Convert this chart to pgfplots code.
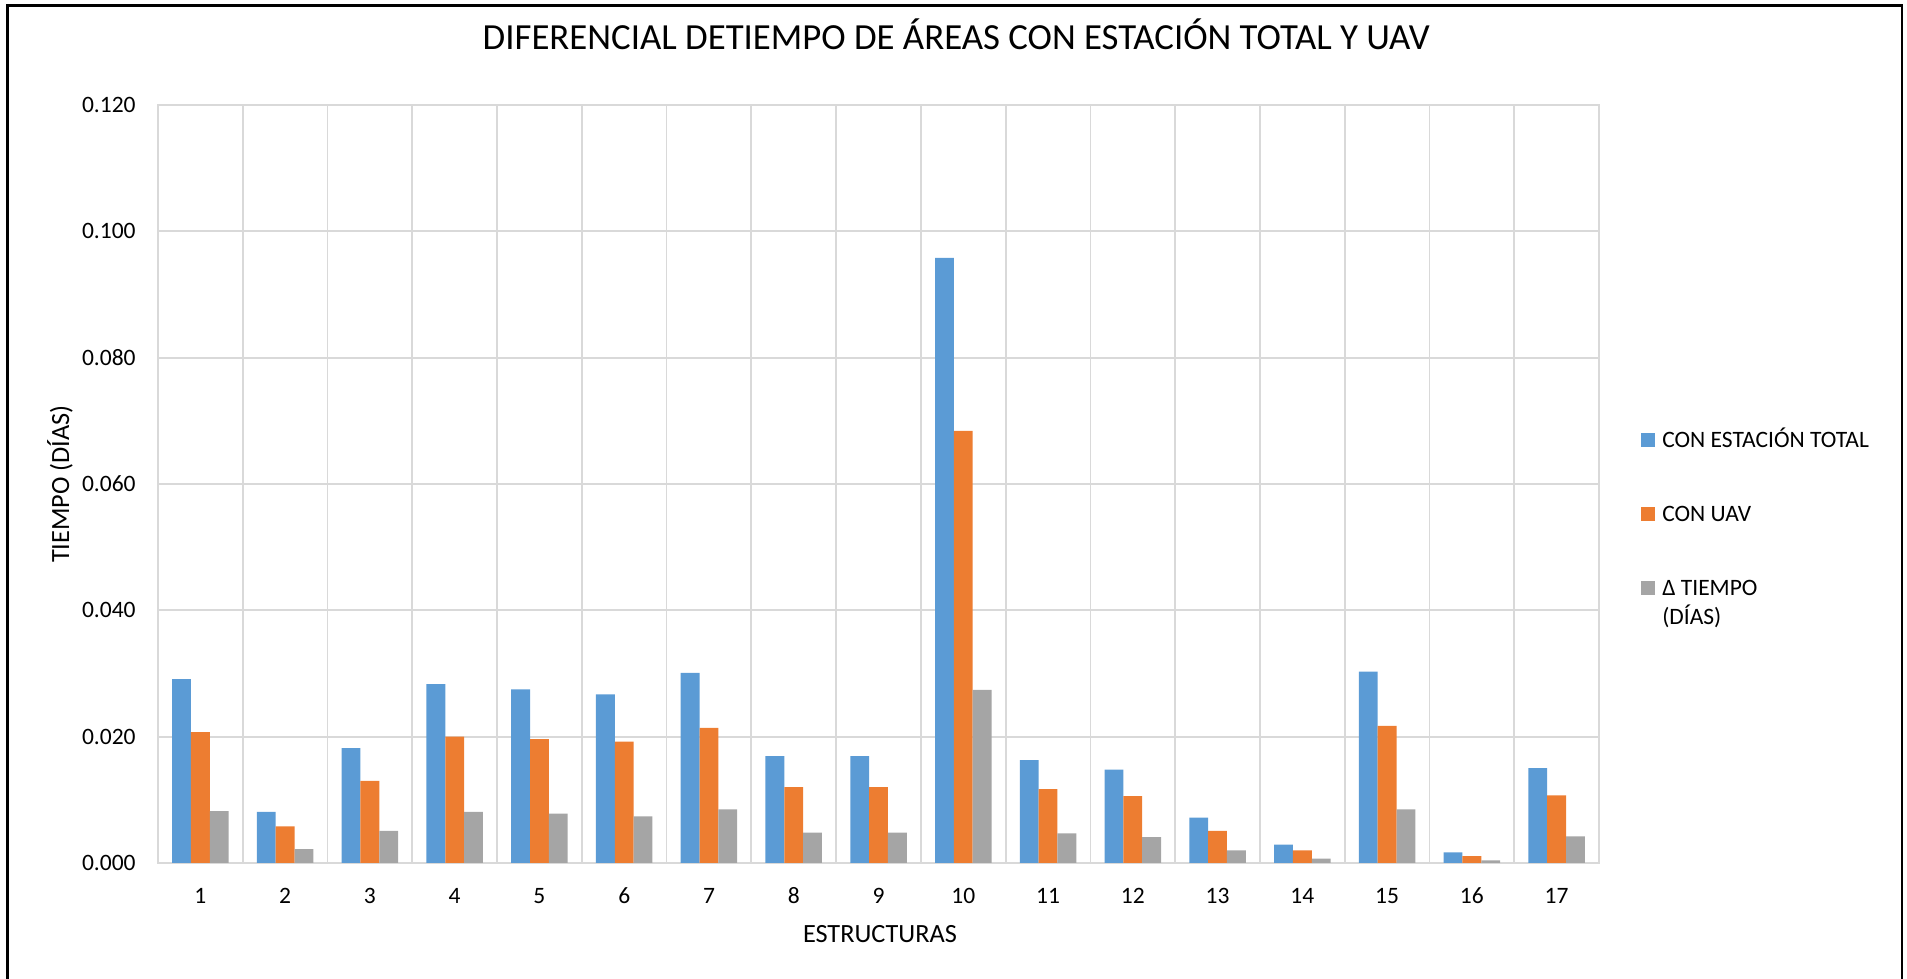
\documentclass[border=0pt]{standalone}
\usepackage{pgfplots}
\pgfplotsset{compat=1.18}
\usepackage{fontspec}
\setmainfont{Carlito}
\definecolor{cblue}{HTML}{5B9BD5}
\definecolor{corange}{HTML}{ED7D31}
\definecolor{cgray}{HTML}{A5A5A5}
\definecolor{cgrid}{HTML}{D9D9D9}
\begin{document}
\begin{tikzpicture}
\useasboundingbox (-79bp,-58bp) rectangle (874.5bp,431.5bp);
\begin{axis}[
  at={(0,0)}, anchor=south west,
  scale only axis, width=720.5bp, height=379bp,
  ybar=0pt, bar width=0.2222,
  legend image code/.code={\fill[#1] (0bp,0bp) rectangle (7bp,7bp);},
  xmin=0.5, xmax=17.5, ymin=0, ymax=0.12,
  xtick={1,...,17}, minor xtick={0.5,1.5,...,17.5},
  xticklabels={1,2,3,4,5,6,7,8,9,10,11,12,13,14,15,16,17},
  ytick={0,0.02,0.04,0.06,0.08,0.1,0.12},
  scaled y ticks=false,
  /pgf/number format/assume math mode=true,
  xminorgrids, ymajorgrids,
  major tick length=0pt, minor tick length=0pt,
  grid style={cgrid, line width=0.9bp},
  minor grid style={cgrid, line width=0.9bp},
  axis line style={cgrid, line width=0.9bp},
  tick label style={font=\fontsize{11.75bp}{14bp}\selectfont, text=black},
  yticklabel style={anchor=east, inner sep=0pt, xshift=-11bp,
    /pgf/number format/.cd, fixed, fixed zerofill, precision=3, assume math mode=true},
  xticklabel style={anchor=base, yshift=-20bp},
  title={DIFERENCIAL DETIEMPO DE ÁREAS CON ESTACIÓN TOTAL Y UAV},
  title style={at={(axis description cs:0.554,1.0571)}, anchor=base, font=\fontsize{18.4bp}{22bp}\selectfont},
  xlabel={ESTRUCTURAS},
  xlabel style={at={(axis description cs:0.501,-0.1055)}, anchor=base, font=\fontsize{13.15bp}{16bp}\selectfont},
  ylabel={TIEMPO (DÍAS)},
  ylabel style={at={(axis description cs:-0.068,0.5)}, anchor=center, font=\fontsize{13.15bp}{16bp}\selectfont},
  legend style={at={(axis description cs:1.0291,0.5736)}, anchor=north west, draw=none, fill=none,
    inner sep=0pt, row sep=25.25bp, column sep=3.5bp,
    font=\fontsize{11.75bp}{14.5bp}\selectfont,
    cells={anchor=base west},
    nodes={inner sep=0pt, text height=9.4bp, text depth=2.35bp}},
]
\addplot[fill=cblue, draw=none] coordinates {
(1,0.0291) (2,0.0081) (3,0.0182) (4,0.0283) (5,0.0275) (6,0.0267) (7,0.0301) (8,0.0169) (9,0.0169)
(10,0.0958) (11,0.0163) (12,0.0148) (13,0.0072) (14,0.0029) (15,0.0303) (16,0.0017) (17,0.0150)};
\addlegendentry{CON ESTACIÓN TOTAL}
\addplot[fill=corange, draw=none] coordinates {
(1,0.0207) (2,0.0058) (3,0.0130) (4,0.0200) (5,0.0196) (6,0.0192) (7,0.0214) (8,0.0120) (9,0.0120)
(10,0.0684) (11,0.0117) (12,0.0106) (13,0.0051) (14,0.0020) (15,0.0217) (16,0.0011) (17,0.0107)};
\addlegendentry{CON UAV}
\addplot[fill=cgray, draw=none] coordinates {
(1,0.0082) (2,0.0022) (3,0.0051) (4,0.0081) (5,0.0078) (6,0.0074) (7,0.0085) (8,0.0048) (9,0.0048)
(10,0.0274) (11,0.0047) (12,0.0041) (13,0.0020) (14,0.0007) (15,0.0085) (16,0.0004) (17,0.0042)};
\addlegendentry{\begin{tabular}[t]{@{}l@{}}Δ TIEMPO\\(DÍAS)\end{tabular}}
\end{axis}
\draw[black, line width=1.25bp] (-75.25bp,-70bp) -- (-75.25bp,428.75bp) -- (872bp,428.75bp) -- (872bp,-70bp);
\end{tikzpicture}
\end{document}
